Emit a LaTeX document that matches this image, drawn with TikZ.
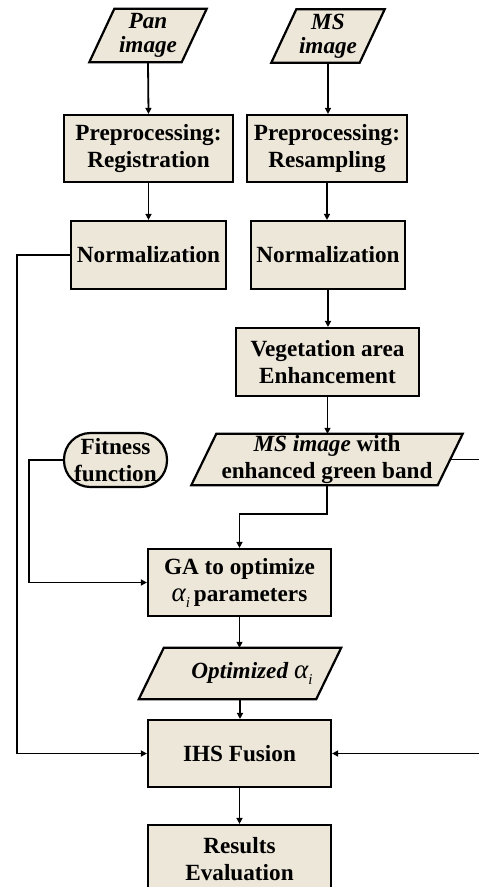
\documentclass[tikz,border=0pt]{standalone}
\usepackage{fontspec}
\setmainfont{Liberation Serif}
\usetikzlibrary{arrows.meta,backgrounds,calc}
\definecolor{boxfill}{HTML}{EDE7DA}
\newcommand\paradraw[2]{%
  \begin{scope}[on background layer]
    \draw[line width=2.2pt, fill=boxfill, line join=miter]
      ([xshift=#2]#1.north west) -- ([xshift=#2]#1.north east) --
      ([xshift=-#2]#1.south east) -- ([xshift=-#2]#1.south west) -- cycle;
  \end{scope}}
\newcommand\alphai{{\mdseries\itshape\fontsize{27}{27}\selectfont α}\raisebox{-6pt}{\fontsize{15}{15}\selectfont\mdseries\itshape i}}
\begin{document}
\begin{tikzpicture}[x=1pt,y=-1pt,
  font=\fontsize{23.2}{27}\selectfont\bfseries,
  proc/.style={draw=black, line width=2.2pt, fill=boxfill, rectangle, inner sep=0pt, align=center},
  iotext/.style={rectangle, inner sep=0pt, align=center},
  term/.style={draw=black, line width=2.2pt, fill=boxfill, rectangle, rounded corners=26.5pt, inner sep=0pt, align=center},
  arr/.style={line width=1.8pt, -{Triangle[length=6pt,width=6pt]}},
  conn/.style={line width=1.8pt}]
\useasboundingbox (0,0) rectangle (479,887);
\clip (0,0) rectangle (479,887);

% input parallelograms
\node[iotext, minimum width=92pt, minimum height=53pt] (pan) at (148,35.5) {\raisebox{-3pt}{\textit{Pan}}\\\textit{image}};
\paradraw{pan}{12.5pt}
\node[iotext, minimum width=88pt, minimum height=53pt] (ms) at (328,36) {\raisebox{-3pt}{\textit{MS}}\\\textit{image}};
\paradraw{ms}{12.5pt}

% preprocessing
\node[proc, minimum width=169pt, minimum height=67pt] (reg) at (148.5,148.5) {Preprocessing:\\Registration};
\node[proc, minimum width=160pt, minimum height=67pt] (res) at (327,148.5) {Preprocessing:\\Resampling};

% normalization
\node[proc, minimum width=155pt, minimum height=68pt] (normL) at (148.5,255) {Normalization};
\node[proc, minimum width=154pt, minimum height=68pt] (normR) at (328,255) {Normalization};

% vegetation
\node[proc, minimum width=183pt, minimum height=68pt] (veg) at (327.5,362) {Vegetation area\\Enhancement};

% enhanced MS image
\node[iotext, minimum width=246pt, minimum height=51pt] (enh) at (327,459.5) {\textit{MS image} with\\enhanced green band};
\paradraw{enh}{12.5pt}

% fitness function
\node[term, minimum width=103pt, minimum height=54pt] (fit) at (115.5,460) {Fitness\\function};

% GA
\node[proc, minimum width=183pt, minimum height=67pt] (ga) at (239.5,582.5) {GA to optimize\\\alphai\,parameters};

% optimized alpha
\node[iotext, minimum width=177pt, minimum height=51pt] (opt) at (240,673.5) {\hspace*{24pt}\textit{Optimized} \alphai};
\paradraw{opt}{12.5pt}

% IHS fusion
\node[proc, minimum width=183pt, minimum height=67pt] (ihs) at (239.5,753.5) {IHS Fusion};

% results
\node[proc, minimum width=183pt, minimum height=68pt] (resu) at (239.5,859) {Results\\Evaluation};

% coordinates for routing
\coordinate (lc1) at (17,255);
\coordinate (lc2) at (17,753.5);
\coordinate (fc1) at (29,460);
\coordinate (fc2) at (29,582.5);
\coordinate (ec1) at (327,514);
\coordinate (ec2) at (239.5,514);
\coordinate (rc1) at (495,459.5);
\coordinate (rc2) at (495,753.5);

% connectors
\draw[arr] (pan.south) -- (reg.north);
\draw[arr] (ms.south) -- (ms.south |- res.north);
\draw[arr] (reg.south) -- (reg.south |- normL.north);
\draw[arr] (res.south) -- (res.south |- normR.north);
\draw[arr] (normR.south) -- (normR.south |- veg.north);
\draw[arr] (veg.south) -- (veg.south |- enh.north);
\draw[arr] (normL.west) -- (lc1) -- (lc2) -- (ihs.west);
\draw[arr] (fit.west) -- (fc1) -- (fc2) -- (ga.west);
\draw[arr] (enh.south) -- (ec1) -- (ec2) -- (ga.north);
\draw[arr] (enh.east) -- (rc1) -- (rc2) -- (ihs.east);
\draw[arr] (ga.south) -- (ga.south |- opt.north);
\draw[arr] (opt.south) -- (opt.south |- ihs.north);
\draw[arr] (ihs.south) -- (resu.north);
\end{tikzpicture}
\end{document}
